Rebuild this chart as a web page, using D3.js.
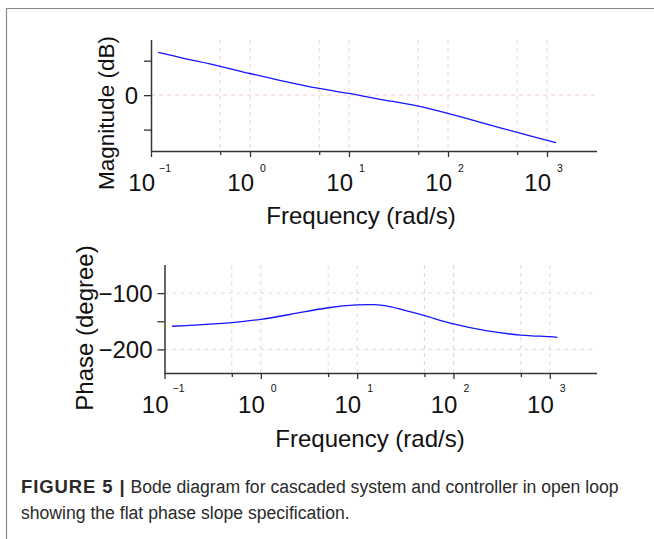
<!DOCTYPE html>
<html>
<head>
<meta charset="utf-8">
<script src="https://cdn.jsdelivr.net/npm/d3@7"></script>
<style>
  html, body { margin: 0; padding: 0; background: #fff; }
  svg { display: block; }
</style>
</head>
<body>
<svg id="chart" width="654" height="539"></svg>
<script>
// ---- data ----
const magFreq  = [0.118, 0.2, 0.5, 1, 2, 5, 10, 20, 50, 100, 200, 500, 1230];
const magDb    = [62.1, 54.5, 41.9, 31.4, 21.5, 9.7, 2.5, -5.6, -15.9, -26.4, -38.5, -54.0, -68.9];
const phFreq   = [0.12, 0.2, 0.5, 1, 2, 5, 10, 15, 20, 30, 50, 100, 224, 500, 1000, 1200];
const phDeg    = [-158.9, -157, -152.5, -146.5, -138, -126, -121, -120.5, -122.5, -129.8, -140, -154.8, -167.3, -174.5, -177.5, -178.6];
const decadeTicks = [0.1, 1, 10, 100, 1000];
const decadeExps  = ["\u22121", "0", "1", "2", "3"];
const minorTicks  = [0.5, 5, 50, 500];
const magTicks    = [-50, 0, 50];
const magTickLabels = ["", "0", ""];
const phTicks     = [-100, -150, -200];
const phTickLabels = ["\u2212100", "", "\u2212200"];
const xTitle = "Frequency (rad/s)";
const magTitle = "Magnitude (dB)";
const phTitle = "Phase (degree)";
const captionBold = "FIGURE 5 |";
const captionLine1 = " Bode diagram for cascaded system and controller in open loop";
const captionLine2 = "showing the flat phase slope specification.";

const svg = d3.select("#chart");
const FONT = "'Liberation Sans', Arial, Helvetica, sans-serif";

// frame
svg.append("line").attr("x1", 6).attr("x2", 654).attr("y1", 8.5).attr("y2", 8.5)
  .attr("stroke", "#8a8a8a").attr("stroke-width", 1.2);
svg.append("line").attr("x1", 6.5).attr("x2", 6.5).attr("y1", 8).attr("y2", 539)
  .attr("stroke", "#8a8a8a").attr("stroke-width", 1.2);

function panel(cfg) {
  const x = d3.scaleLog().domain([0.1, cfg.xMax]).range([cfg.left, cfg.right]);
  const y = d3.scaleLinear().domain(cfg.yDomain).range([cfg.bottom, cfg.top]);
  const g = svg.append("g");

  // grid
  const allX = decadeTicks.concat(minorTicks).filter(v => v > 0.1);
  g.selectAll(null).data(allX).enter().append("line")
    .attr("x1", d => x(d)).attr("x2", d => x(d))
    .attr("y1", cfg.top).attr("y2", cfg.bottom)
    .attr("stroke", cfg.gridColor).attr("stroke-width", 1).attr("stroke-dasharray", "4,4");
  g.selectAll(null).data(cfg.gridY).enter().append("line")
    .attr("x1", cfg.left).attr("x2", cfg.right)
    .attr("y1", d => y(d)).attr("y2", d => y(d))
    .attr("stroke", cfg.gridColor).attr("stroke-width", 1).attr("stroke-dasharray", "4,4");

  // axes
  const xAxis = d3.axisBottom(x).tickValues(decadeTicks.concat(minorTicks))
    .tickSize(6).tickFormat("");
  const xg = g.append("g").attr("transform", `translate(0,${cfg.bottom})`).call(xAxis);
  xg.selectAll(".tick line").attr("stroke", "#333").attr("stroke-width", 1.3)
    .attr("y2", (d) => minorTicks.includes(d) ? 4 : 6);
  xg.select(".domain").attr("stroke", "#333").attr("stroke-width", 1.5)
    .attr("d", `M${cfg.left},0.5H${cfg.right}`);

  const yAxis = d3.axisLeft(y).tickValues(cfg.yTicks).tickSize(7).tickFormat("");
  const yg = g.append("g").attr("transform", `translate(${cfg.left},0)`).call(yAxis);
  yg.selectAll(".tick line").attr("stroke", "#333").attr("stroke-width", 1.3);
  yg.select(".domain").attr("stroke", "#333").attr("stroke-width", 1.5)
    .attr("d", `M0.5,${cfg.top}V${cfg.bottom}`);

  // y tick labels
  g.selectAll(null).data(cfg.yTicks).enter().append("text")
    .attr("x", cfg.left - cfg.yLabelGap).attr("y", d => y(d))
    .attr("dy", "0.36em").attr("text-anchor", "end")
    .attr("font-family", FONT).attr("font-size", cfg.fs).attr("fill", "#111")
    .text((d, i) => cfg.yTickLabels[i]);

  // x tick labels: base 10 and superscript exponent
  g.selectAll(null).data(decadeTicks).enter().append("text")
    .attr("x", d => x(d) + 4).attr("y", cfg.baseY)
    .attr("text-anchor", "end")
    .attr("font-family", FONT).attr("font-size", cfg.fs).attr("fill", "#111")
    .text("10");
  g.selectAll(null).data(decadeTicks).enter().append("text")
    .attr("x", (d, i) => x(d) + (i === 0 ? 8 : 10)).attr("y", cfg.expY)
    .attr("text-anchor", "start")
    .attr("font-family", FONT).attr("font-size", 10.5).attr("fill", "#111")
    .text((d, i) => decadeExps[i]);

  // titles
  g.append("text").attr("x", cfg.xTitleX).attr("y", cfg.xTitleY)
    .attr("text-anchor", "middle").attr("font-family", FONT)
    .attr("font-size", cfg.fs).attr("fill", "#111").text(xTitle);
  g.append("text")
    .attr("transform", `translate(${cfg.yTitleX},${cfg.yTitleY}) rotate(-90)`)
    .attr("text-anchor", "middle").attr("font-family", FONT)
    .attr("font-size", cfg.titleFs).attr("fill", "#111").text(cfg.yTitle);

  // curve
  const pts = cfg.xs.map((f, i) => [x(f), y(cfg.ys[i])]);
  g.append("path").datum(pts)
    .attr("d", d3.line().curve(d3.curveCatmullRom.alpha(0.5)))
    .attr("fill", "none").attr("stroke", "#1414ff").attr("stroke-width", 1.3);
}

panel({
  left: 151, right: 597, top: 40, bottom: 151,
  xMax: Math.pow(10, 3.505),
  yDomain: [-81, 80],
  yTicks: magTicks, yTickLabels: magTickLabels, yLabelGap: 13,
  gridY: [0], gridColor: "#f9cccc",
  fs: 24, titleFs: 22.5,
  baseY: 191, expY: 172,
  xTitleX: 361, xTitleY: 224,
  yTitle: magTitle, yTitleX: 114, yTitleY: 113,
  xs: magFreq, ys: magDb
});

panel({
  left: 164.5, right: 597, top: 265, bottom: 373,
  xMax: Math.pow(10, 3.49),
  yDomain: [-242, -50],
  yTicks: phTicks, yTickLabels: phTickLabels, yLabelGap: 12,
  gridY: [-100, -200], gridColor: "#dcdcdc",
  fs: 24, titleFs: 24,
  baseY: 413, expY: 392,
  xTitleX: 370, xTitleY: 447,
  yTitle: phTitle, yTitleX: 93, yTitleY: 328,
  xs: phFreq, ys: phDeg
});

// caption
const cap = svg.append("text").attr("x", 21).attr("y", 493)
  .attr("font-family", FONT).attr("font-size", 17.6).attr("fill", "#2a2a2a");
cap.append("tspan").attr("font-weight", "bold").attr("font-size", 18.5)
  .attr("letter-spacing", 0.9).text(captionBold);
cap.append("tspan").text(captionLine1);
svg.append("text").attr("x", 21).attr("y", 519)
  .attr("font-family", FONT).attr("font-size", 17.6).attr("fill", "#2a2a2a")
  .text(captionLine2);
</script>
</body>
</html>
